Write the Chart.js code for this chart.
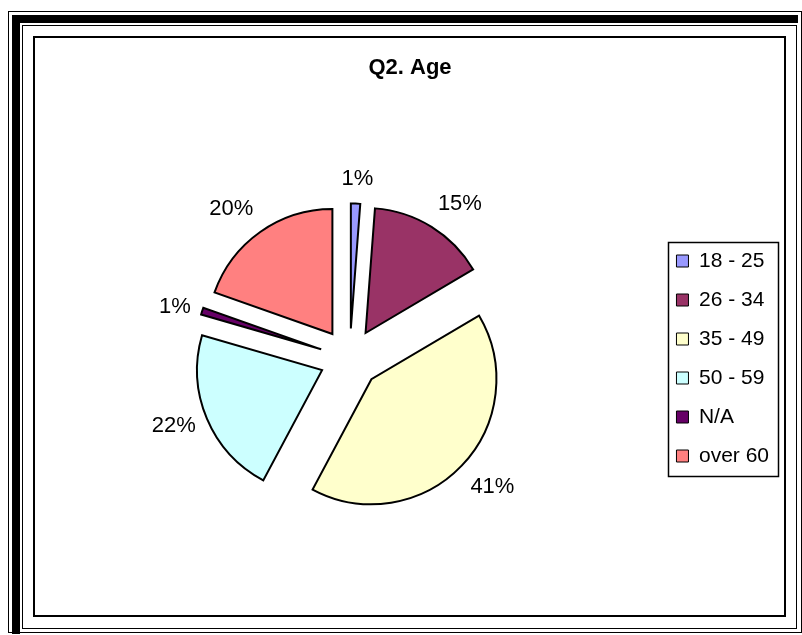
<!DOCTYPE html>
<html><head><meta charset="utf-8">
<script src="https://cdn.jsdelivr.net/npm/chart.js@4"></script>
<style>
html,body{margin:0;padding:0;background:#fff;width:802px;height:635px;overflow:hidden;position:relative}
.f{position:absolute;box-sizing:border-box}
#c{position:absolute;left:0;top:0}
</style></head><body>
<div class="f" style="left:8px;top:11px;width:794px;height:622px;border:1px solid #000"></div>
<div class="f" style="left:12px;top:15px;width:786px;height:619px;border-top:8px solid #000;border-left:8px solid #000"></div>
<div class="f" style="left:22px;top:25px;width:775px;height:604px;border:1px solid #000"></div>
<div class="f" style="left:33px;top:36px;width:753px;height:581px;border:2px solid #000"></div>
<canvas id="c" width="802" height="635"></canvas>
<script>
const categories = ['18 - 25', '26 - 34', '35 - 49', '50 - 59', 'N/A', 'over 60'];
const shares = [1.2, 15.3, 41.3, 21.7, 0.9, 19.6];
const sliceColors = ['#9999FF', '#993366', '#FFFFCC', '#CCFFFF', '#660066', '#FF8080'];
const chartTitle = 'Q2. Age';

const FONT = '"Liberation Sans", Arial, Helvetica, sans-serif';
const EXPLODE = 30;
Chart.defaults.font.family = FONT;
Chart.defaults.color = '#000';

// move every slice outward along its own bisector (exploded pie)
const explode = {
  id: 'explode',
  afterDatasetsUpdate(chart) {
    const meta = chart.getDatasetMeta(0);
    meta.data.forEach(arc => {
      const a = (arc.startAngle + arc.endAngle) / 2;
      arc.x += Math.cos(a) * EXPLODE;
      arc.y += Math.sin(a) * EXPLODE;
    });
  }
};

const pctLabels = {
  id: 'pctLabels',
  afterDatasetsDraw(chart) {
    const ctx = chart.ctx;
    const meta = chart.getDatasetMeta(0);
    const data = chart.data.datasets[0].data;
    const total = data.reduce((a, b) => a + b, 0);
    const fx = t => Math.max(-1, Math.min(1, t * 2.5));
    const fy = t => Math.sign(t) * Math.max(0, Math.min(1, (Math.abs(t) - 0.3) * 2.6));
    ctx.save();
    ctx.font = '22px ' + FONT;
    ctx.fillStyle = '#000';
    ctx.textAlign = 'center';
    ctx.textBaseline = 'middle';
    meta.data.forEach((arc, i) => {
      const a = (arc.startAngle + arc.endAngle) / 2;
      const txt = Math.round(data[i] / total * 100) + '%';
      const w = ctx.measureText(txt).width, h = 26;
      const k = arc.outerRadius + 12;
      const x = arc.x + Math.cos(a) * k + fx(Math.cos(a)) * w / 2;
      const y = arc.y + Math.sin(a) * k + fy(Math.sin(a)) * h / 2;
      ctx.fillText(txt, x, y);
    });
    ctx.restore();
  }
};

const legendFrame = {
  id: 'legendFrame',
  afterDraw(chart) {
    const hb = chart.legend && chart.legend.legendHitBoxes;
    if (!hb || !hb.length) return;
    let l = Infinity, t = Infinity, r = -Infinity, b = -Infinity;
    hb.forEach(h => {
      l = Math.min(l, h.left); t = Math.min(t, h.top);
      r = Math.max(r, h.left + h.width); b = Math.max(b, h.top + h.height);
    });
    const ctx = chart.ctx;
    ctx.save();
    ctx.strokeStyle = '#000';
    ctx.lineWidth = 1.5;
    ctx.strokeRect(Math.round(l - 8) + 0.5, Math.round(t - 9) + 0.5, Math.round(r - l + 17), Math.round(b - t + 18));
    ctx.restore();
  }
};

new Chart(document.getElementById('c'), {
  type: 'pie',
  data: {
    labels: categories,
    datasets: [{
      data: shares,
      backgroundColor: sliceColors,
      borderColor: '#000',
      borderWidth: 2,
      borderJoinStyle: 'miter',
      offset: 0
    }]
  },
  options: {
    responsive: false,
    animation: false,
    radius: 125,
    rotation: 0,
    layout: { padding: { left: 41, right: 23, top: 0, bottom: 9.4 } },
    plugins: {
      tooltip: { enabled: false },
      title: {
        display: true,
        text: chartTitle,
        color: '#000',
        font: { family: FONT, size: 22, weight: 'bold' },
        padding: { top: 55, bottom: 10 }
      },
      legend: {
        position: 'right',
        align: 'center',
        fullSize: false,
        labels: {
          color: '#000',
          font: { family: FONT, size: 21 },
          boxWidth: 12,
          boxHeight: 12,
          padding: 18,
          generateLabels(chart) {
            const items = Chart.overrides.doughnut.plugins.legend.labels.generateLabels(chart);
            items.forEach(it => { it.lineWidth = 1; it.strokeStyle = '#000'; });
            return items;
          }
        }
      }
    }
  },
  plugins: [explode, pctLabels, legendFrame]
});
</script>
</body></html>
